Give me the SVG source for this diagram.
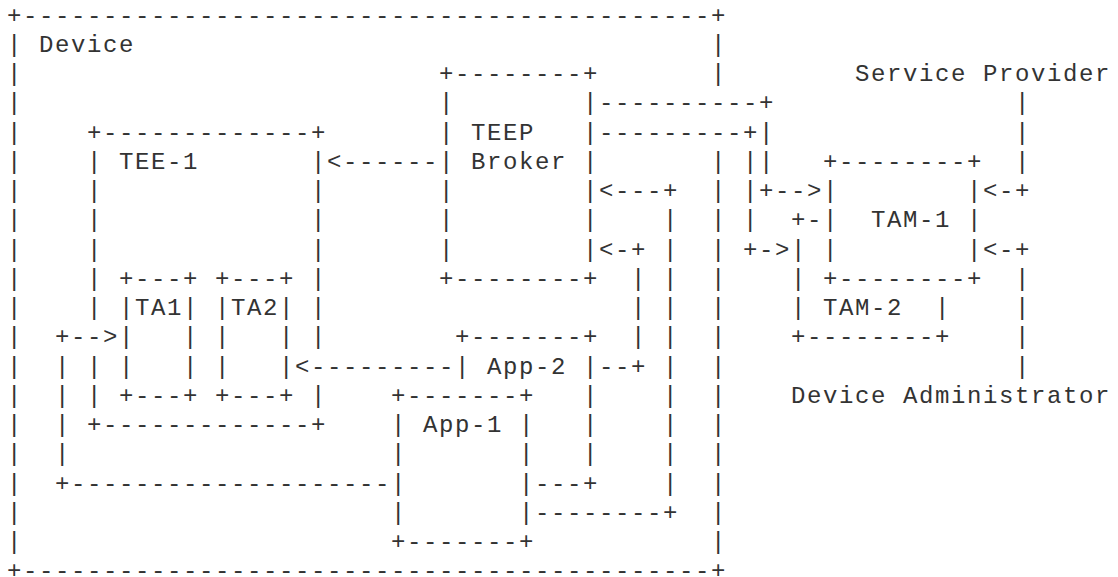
<svg xmlns="http://www.w3.org/2000/svg" width="1118" height="577" viewBox="0 0 1118 577">
  <style>
    /* character grid: column c at x = 7 + 16c, row r baseline at y = 22.5 + 29.25r */
    text { font-family: "Liberation Mono", "DejaVu Sans Mono", monospace; font-size: 24px; letter-spacing: 1.6px; fill: #333; }
  </style>
  <rect width="1118" height="577" fill="#ffffff"/>

  <!-- Device boundary -->
  <g id="device">
    <text>
      <tspan x="7" y="22.5">+-------------------------------------------+</tspan>
      <tspan x="7" y="51.75">|</tspan><tspan x="39" y="51.75">Device</tspan><tspan x="711" y="51.75">|</tspan>
      <tspan x="7" y="81">|</tspan><tspan x="711" y="81">|</tspan>
      <tspan x="7" y="110.25">|</tspan>
      <tspan x="7" y="139.5">|</tspan>
      <tspan x="7" y="168.75">|</tspan><tspan x="711" y="168.75">|</tspan>
      <tspan x="7" y="198">|</tspan><tspan x="711" y="198">|</tspan>
      <tspan x="7" y="227.25">|</tspan><tspan x="711" y="227.25">|</tspan>
      <tspan x="7" y="256.5">|</tspan><tspan x="711" y="256.5">|</tspan>
      <tspan x="7" y="285.75">|</tspan><tspan x="711" y="285.75">|</tspan>
      <tspan x="7" y="315">|</tspan><tspan x="711" y="315">|</tspan>
      <tspan x="7" y="344.25">|</tspan><tspan x="711" y="344.25">|</tspan>
      <tspan x="7" y="373.5">|</tspan><tspan x="711" y="373.5">|</tspan>
      <tspan x="7" y="402.75">|</tspan><tspan x="711" y="402.75">|</tspan>
      <tspan x="7" y="432">|</tspan><tspan x="711" y="432">|</tspan>
      <tspan x="7" y="461.25">|</tspan><tspan x="711" y="461.25">|</tspan>
      <tspan x="7" y="490.5">|</tspan><tspan x="711" y="490.5">|</tspan>
      <tspan x="7" y="519.75">|</tspan><tspan x="711" y="519.75">|</tspan>
      <tspan x="7" y="549">|</tspan><tspan x="711" y="549">|</tspan>
      <tspan x="7" y="578.25">+-------------------------------------------+</tspan>
    </text>
  </g>

  <!-- TEEP Broker -->
  <g id="teep-broker">
    <text>
      <tspan x="439" y="81">+--------+</tspan>
      <tspan x="439" y="110.25">|</tspan><tspan x="583" y="110.25">|</tspan>
      <tspan x="439" y="139.5">|</tspan><tspan x="471" y="139.5">TEEP</tspan><tspan x="583" y="139.5">|</tspan>
      <tspan x="439" y="168.75">|</tspan><tspan x="471" y="168.75">Broker</tspan><tspan x="583" y="168.75">|</tspan>
      <tspan x="439" y="198">|</tspan><tspan x="583" y="198">|</tspan>
      <tspan x="439" y="227.25">|</tspan><tspan x="583" y="227.25">|</tspan>
      <tspan x="439" y="256.5">|</tspan><tspan x="583" y="256.5">|</tspan>
      <tspan x="439" y="285.75">+--------+</tspan>
    </text>
  </g>

  <!-- TEE-1 -->
  <g id="tee-1">
    <text>
      <tspan x="87" y="139.5">+-------------+</tspan>
      <tspan x="87" y="168.75">|</tspan><tspan x="119" y="168.75">TEE-1</tspan><tspan x="311" y="168.75">|</tspan>
      <tspan x="87" y="198">|</tspan><tspan x="311" y="198">|</tspan>
      <tspan x="87" y="227.25">|</tspan><tspan x="311" y="227.25">|</tspan>
      <tspan x="87" y="256.5">|</tspan><tspan x="311" y="256.5">|</tspan>
      <tspan x="87" y="285.75">|</tspan><tspan x="311" y="285.75">|</tspan>
      <tspan x="87" y="315">|</tspan><tspan x="311" y="315">|</tspan>
      <tspan x="311" y="344.25">|</tspan>
      <tspan x="87" y="373.5">|</tspan>
      <tspan x="87" y="402.75">|</tspan><tspan x="311" y="402.75">|</tspan>
      <tspan x="87" y="432">+-------------+</tspan>
    </text>
  </g>

  <!-- TA1 -->
  <g id="ta1">
    <text>
      <tspan x="119" y="285.75">+---+</tspan>
      <tspan x="119" y="315">|TA1|</tspan>
      <tspan x="119" y="344.25">|</tspan><tspan x="183" y="344.25">|</tspan>
      <tspan x="119" y="373.5">|</tspan><tspan x="183" y="373.5">|</tspan>
      <tspan x="119" y="402.75">+---+</tspan>
    </text>
  </g>

  <!-- TA2 -->
  <g id="ta2">
    <text>
      <tspan x="215" y="285.75">+---+</tspan>
      <tspan x="215" y="315">|TA2|</tspan>
      <tspan x="215" y="344.25">|</tspan><tspan x="279" y="344.25">|</tspan>
      <tspan x="215" y="373.5">|</tspan><tspan x="279" y="373.5">|</tspan>
      <tspan x="215" y="402.75">+---+</tspan>
    </text>
  </g>

  <!-- App-2 (partly behind App-1) -->
  <g id="app-2">
    <text>
      <tspan x="455" y="344.25">+-------+</tspan>
      <tspan x="455" y="373.5">|</tspan><tspan x="487" y="373.5">App-2</tspan><tspan x="583" y="373.5">|</tspan>
      <tspan x="583" y="402.75">|</tspan>
      <tspan x="583" y="432">|</tspan>
      <tspan x="583" y="461.25">|</tspan>
      <tspan x="535" y="490.5">---+</tspan>
    </text>
  </g>

  <!-- App-1 -->
  <g id="app-1">
    <text>
      <tspan x="391" y="402.75">+-------+</tspan>
      <tspan x="391" y="432">|</tspan><tspan x="423" y="432">App-1</tspan><tspan x="519" y="432">|</tspan>
      <tspan x="391" y="461.25">|</tspan><tspan x="519" y="461.25">|</tspan>
      <tspan x="391" y="490.5">|</tspan><tspan x="519" y="490.5">|</tspan>
      <tspan x="391" y="519.75">|</tspan><tspan x="519" y="519.75">|</tspan>
      <tspan x="391" y="549">+-------+</tspan>
    </text>
  </g>

  <!-- TAM-1 -->
  <g id="tam-1">
    <text>
      <tspan x="823" y="168.75">+--------+</tspan>
      <tspan x="823" y="198">|</tspan><tspan x="967" y="198">|</tspan>
      <tspan x="823" y="227.25">|</tspan><tspan x="871" y="227.25">TAM-1</tspan><tspan x="967" y="227.25">|</tspan>
      <tspan x="823" y="256.5">|</tspan><tspan x="967" y="256.5">|</tspan>
      <tspan x="823" y="285.75">+--------+</tspan>
    </text>
  </g>

  <!-- TAM-2 (partly behind TAM-1) -->
  <g id="tam-2">
    <text>
      <tspan x="791" y="227.25">+-</tspan>
      <tspan x="791" y="256.5">|</tspan>
      <tspan x="791" y="285.75">|</tspan>
      <tspan x="791" y="315">|</tspan><tspan x="823" y="315">TAM-2</tspan><tspan x="935" y="315">|</tspan>
      <tspan x="791" y="344.25">+--------+</tspan>
    </text>
  </g>

  <!-- External parties -->
  <g id="service-provider">
    <text x="855" y="81">Service Provider</text>
  </g>
  <g id="device-administrator">
    <text x="791" y="402.75">Device Administrator</text>
  </g>

  <!-- Connectors -->
  <g id="connectors">
    <!-- TEEP Broker to TAM-1 -->
    <text>
      <tspan x="599" y="110.25">----------+</tspan>
      <tspan x="759" y="139.5">|</tspan>
      <tspan x="759" y="168.75">|</tspan>
      <tspan x="759" y="198">+--&gt;</tspan>
    </text>
    <!-- TEEP Broker to TAM-2 -->
    <text>
      <tspan x="599" y="139.5">---------+</tspan>
      <tspan x="743" y="168.75">|</tspan>
      <tspan x="743" y="198">|</tspan>
      <tspan x="743" y="227.25">|</tspan>
      <tspan x="743" y="256.5">+-&gt;</tspan>
    </text>
    <!-- TEEP Broker to TEE-1 -->
    <text x="327" y="168.75">&lt;------</text>
    <!-- Service Provider to TAM-1 -->
    <text>
      <tspan x="1015" y="110.25">|</tspan>
      <tspan x="1015" y="139.5">|</tspan>
      <tspan x="1015" y="168.75">|</tspan>
      <tspan x="983" y="198">&lt;-+</tspan>
    </text>
    <!-- Device Administrator to TAM-1 -->
    <text>
      <tspan x="983" y="256.5">&lt;-+</tspan>
      <tspan x="1015" y="285.75">|</tspan>
      <tspan x="1015" y="315">|</tspan>
      <tspan x="1015" y="344.25">|</tspan>
      <tspan x="1015" y="373.5">|</tspan>
    </text>
    <!-- App-1 to TEEP Broker -->
    <text>
      <tspan x="599" y="198">&lt;---+</tspan>
      <tspan x="663" y="227.25">|</tspan>
      <tspan x="663" y="256.5">|</tspan>
      <tspan x="663" y="285.75">|</tspan>
      <tspan x="663" y="315">|</tspan>
      <tspan x="663" y="344.25">|</tspan>
      <tspan x="663" y="373.5">|</tspan>
      <tspan x="663" y="402.75">|</tspan>
      <tspan x="663" y="432">|</tspan>
      <tspan x="663" y="461.25">|</tspan>
      <tspan x="663" y="490.5">|</tspan>
      <tspan x="535" y="519.75">--------+</tspan>
    </text>
    <!-- App-2 to TEEP Broker -->
    <text>
      <tspan x="599" y="256.5">&lt;-+</tspan>
      <tspan x="631" y="285.75">|</tspan>
      <tspan x="631" y="315">|</tspan>
      <tspan x="631" y="344.25">|</tspan>
      <tspan x="599" y="373.5">--+</tspan>
    </text>
    <!-- App-2 to TA2 -->
    <text x="295" y="373.5">&lt;---------</text>
    <!-- App-1 to TA1 -->
    <text>
      <tspan x="55" y="344.25">+--&gt;</tspan>
      <tspan x="55" y="373.5">|</tspan>
      <tspan x="55" y="402.75">|</tspan>
      <tspan x="55" y="432">|</tspan>
      <tspan x="55" y="461.25">|</tspan>
      <tspan x="55" y="490.5">+--------------------</tspan>
    </text>
  </g>
</svg>
